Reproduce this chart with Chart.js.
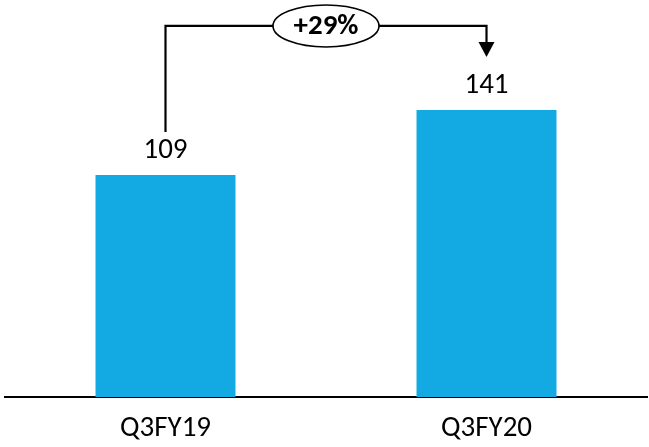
<!DOCTYPE html>
<html>
<head>
<meta charset="utf-8">
<script src="https://cdn.jsdelivr.net/npm/chart.js@4/dist/chart.umd.min.js"></script>
<style>
  html, body { margin: 0; padding: 0; background: #fff; }
  canvas { display: block; }
</style>
</head>
<body>
<canvas id="c" width="649" height="447"></canvas>
<script>
// Quarterly figures
const categories = ['Q3FY19', 'Q3FY20'];
const values = [109, 141];

const FONT = 'Carlito, Calibri, Lato, "Open Sans", sans-serif';
const BAR_COLOR = '#13a9e2';

// Year-on-year change shown in the bracket bubble
const growthPct = Math.round((values[1] / values[0] - 1) * 100);
const growthLabel = (growthPct >= 0 ? '+' : '') + growthPct + '%';

// Value labels above the bars plus the growth bracket with arrow
const overlay = {
  id: 'overlay',
  afterDatasetsDraw(chart) {
    const ctx = chart.ctx;
    const bars = chart.getDatasetMeta(0).data;
    ctx.save();

    // value labels
    ctx.fillStyle = '#000';
    ctx.font = '29px ' + FONT;
    ctx.textAlign = 'center';
    ctx.textBaseline = 'middle';
    bars.forEach((b, i) => {
      ctx.fillText(String(values[i]), b.x, b.y - 24);
    });

    // bracket
    const x1 = bars[0].x, x2 = bars[1].x;
    const yLine = bars[1].y - 84;
    const yStart = bars[0].y - 43;
    const yTip = bars[1].y - 53;
    ctx.strokeStyle = '#000';
    ctx.lineWidth = 2.2;
    ctx.beginPath();
    ctx.moveTo(x1, yStart);
    ctx.lineTo(x1, yLine);
    ctx.lineTo(x2, yLine);
    ctx.lineTo(x2, yTip - 14);
    ctx.stroke();

    // arrow head
    ctx.fillStyle = '#000';
    ctx.beginPath();
    ctx.moveTo(x2 - 8, yTip - 15);
    ctx.lineTo(x2 + 8, yTip - 15);
    ctx.lineTo(x2, yTip);
    ctx.closePath();
    ctx.fill();

    // bubble with growth text
    const cx = (x1 + x2) / 2, cy = yLine;
    ctx.beginPath();
    ctx.ellipse(cx, cy, 53, 21, 0, 0, Math.PI * 2);
    ctx.fillStyle = '#fff';
    ctx.fill();
    ctx.lineWidth = 1.6;
    ctx.stroke();
    ctx.fillStyle = '#000';
    ctx.font = 'bold 29px ' + FONT;
    ctx.fillText(growthLabel, cx, cy + 1);

    ctx.restore();
  }
};

new Chart(document.getElementById('c'), {
  type: 'bar',
  data: {
    labels: categories,
    datasets: [{
      data: values,
      backgroundColor: BAR_COLOR,
      borderWidth: 0,
      barPercentage: 0.436,
      categoryPercentage: 1
    }]
  },
  options: {
    responsive: false,
    animation: false,
    layout: { padding: { left: 5, right: 2, top: 0, bottom: 0 } },
    plugins: {
      legend: { display: false },
      tooltip: { enabled: false }
    },
    scales: {
      x: {
        grid: { display: false, drawTicks: false },
        border: { display: true, color: '#000', width: 2 },
        ticks: {
          color: '#000',
          font: { family: FONT, size: 29 },
          padding: 14
        },
        afterFit(scale) { scale.height = 50; }
      },
      y: {
        display: false,
        min: 0,
        max: 195
      }
    }
  },
  plugins: [overlay]
});
</script>
</body>
</html>
